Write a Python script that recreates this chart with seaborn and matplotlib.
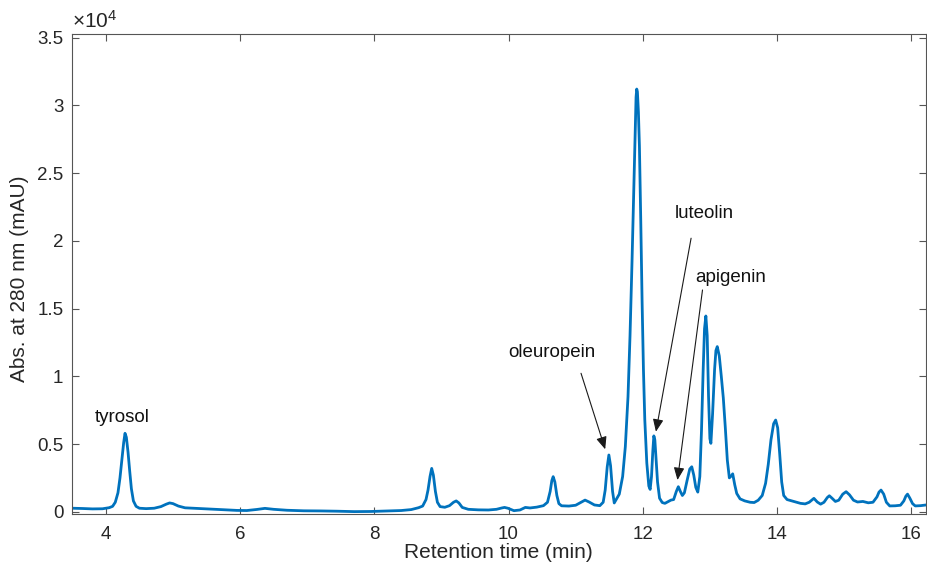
import matplotlib
matplotlib.use("Agg")
import matplotlib.pyplot as plt
import pandas as pd
import seaborn as sns

# ---- data ----
retention_time = [
    3.50, 3.65, 3.80, 3.95, 4.05, 4.10, 4.14, 4.18, 4.21, 4.24, 4.265, 4.285, 4.305, 4.33, 4.355,
    4.38, 4.41, 4.45, 4.50, 4.60, 4.72, 4.82, 4.90, 4.95, 5.00, 5.08, 5.18, 5.35, 5.55, 5.75,
    5.95, 6.10, 6.25, 6.37, 6.50, 6.70, 6.95, 7.20, 7.45, 7.70, 7.95, 8.20, 8.40, 8.55, 8.66,
    8.72, 8.77, 8.80, 8.83, 8.855, 8.88, 8.91, 8.94, 8.98, 9.05, 9.12, 9.18, 9.22, 9.26, 9.31,
    9.40, 9.55, 9.70, 9.82, 9.90, 9.94, 9.99, 10.08, 10.17, 10.25, 10.32, 10.42, 10.52, 10.58, 10.62,
    10.645, 10.665, 10.69, 10.72, 10.75, 10.79, 10.90, 11.00, 11.08, 11.14, 11.20, 11.28, 11.36, 11.41, 11.44,
    11.47, 11.495, 11.52, 11.55, 11.575, 11.65, 11.70, 11.74, 11.78, 11.81, 11.84, 11.87, 11.89, 11.90, 11.91,
    11.92, 11.935, 11.95, 11.97, 11.99, 12.01, 12.03, 12.06, 12.09, 12.11, 12.13, 12.15, 12.165, 12.18, 12.20,
    12.22, 12.25, 12.29, 12.33, 12.38, 12.42, 12.46, 12.50, 12.53, 12.56, 12.59, 12.62, 12.66, 12.70, 12.73,
    12.76, 12.79, 12.82, 12.85, 12.875, 12.90, 12.92, 12.94, 12.96, 12.98, 13.00, 13.015, 13.04, 13.07, 13.09,
    13.11, 13.14, 13.17, 13.20, 13.23, 13.26, 13.29, 13.32, 13.34, 13.37, 13.40, 13.45, 13.52, 13.60, 13.66,
    13.72, 13.78, 13.83, 13.87, 13.91, 13.95, 13.98, 14.01, 14.04, 14.07, 14.10, 14.15, 14.25, 14.35, 14.42,
    14.48, 14.55, 14.60, 14.65, 14.70, 14.75, 14.78, 14.82, 14.87, 14.92, 14.98, 15.03, 15.08, 15.14, 15.20,
    15.28, 15.36, 15.43, 15.49, 15.52, 15.55, 15.59, 15.63, 15.68, 15.76, 15.84, 15.89, 15.92, 15.945, 15.98,
    16.02, 16.06, 16.14, 16.22,
]
absorbance = [
    260, 240, 210, 220, 300, 400, 700, 1400, 2500, 3900, 5100, 5790, 5500, 4400, 3000,
    1700, 800, 400, 260, 230, 260, 380, 560, 650, 600, 420, 290, 250, 200, 150,
    100, 90, 170, 250, 180, 110, 70, 60, 40, 10, 20, 60, 90, 160, 300,
    420, 900, 1600, 2600, 3200, 2700, 1500, 700, 380, 330, 450, 700, 800, 650, 320,
    180, 140, 130, 180, 280, 320, 260, 80, 130, 320, 280, 340, 450, 700, 1500,
    2300, 2590, 2200, 1200, 600, 440, 420, 480, 700, 860, 720, 500, 450, 700, 1600,
    3300, 4190, 3400, 1500, 650, 1300, 2600, 4800, 8500, 13000, 18500, 24500, 28800, 30600, 31200,
    31000, 29500, 27000, 21500, 15500, 10500, 6800, 3600, 1900, 1650, 2600, 4500, 5600, 5300, 3800,
    2200, 1000, 680, 620, 750, 860, 900, 1500, 1850, 1500, 1200, 1400, 2300, 3150, 3320,
    2700, 1800, 1450, 2600, 6000, 10500, 13500, 14450, 13000, 8500, 5400, 5050, 7200, 10500, 11900,
    12190, 11500, 10000, 8400, 6200, 3800, 2500, 2650, 2800, 2000, 1350, 950, 800, 700, 680,
    850, 1200, 2100, 3500, 5300, 6500, 6770, 6200, 4300, 2200, 1200, 900, 760, 620, 580,
    700, 990, 720, 560, 700, 1050, 1180, 1000, 760, 850, 1300, 1480, 1250, 850, 720,
    760, 660, 700, 1100, 1450, 1600, 1300, 700, 430, 440, 480, 800, 1150, 1300, 1000,
    600, 430, 450, 500,
]

x_ticks = [4, 6, 8, 10, 12, 14, 16]
y_ticks = [0, 5000, 10000, 15000, 20000, 25000, 30000, 35000]
y_tick_labels = ["0", "0.5", "1", "1.5", "2", "2.5", "3", "3.5"]

compounds = ["tyrosol", "oleuropein", "luteolin", "apigenin"]

df = pd.DataFrame({"Retention time (min)": retention_time, "Absorbance": absorbance})

sns.set_theme(style="white")
plt.rcParams["font.family"] = ["Liberation Sans", "DejaVu Sans"]
plt.rcParams["mathtext.fontset"] = "custom"
plt.rcParams["mathtext.rm"] = "Liberation Sans"
plt.rcParams["mathtext.it"] = "Liberation Sans"

text_color = "#262626"
spine_color = "#555555"

fig = plt.figure(figsize=(9.27, 5.66), dpi=100)
ax = fig.add_axes([0.0773, 0.0913, 0.9216, 0.8495])

sns.lineplot(data=df, x="Retention time (min)", y="Absorbance", ax=ax,
             color="#0072BD", linewidth=2.0, errorbar=None)

ax.set_xlim(3.49, 16.22)
ax.set_ylim(-190, 35300)
ax.set_xticks(x_ticks)
ax.set_xticklabels([str(v) for v in x_ticks])
ax.set_yticks(y_ticks)
ax.set_yticklabels(y_tick_labels)

for s in ax.spines.values():
    s.set_visible(True)
    s.set_color(spine_color)
    s.set_linewidth(0.8)

ax.tick_params(axis="both", which="both", direction="in", length=5, width=0.8,
               color=spine_color, labelcolor=text_color, labelsize=13.5,
               top=True, right=True, bottom=True, left=True)
ax.tick_params(axis="x", pad=8.5)
ax.tick_params(axis="y", pad=6)

ax.set_xlabel("Retention time (min)", fontsize=15, color=text_color)
ax.set_ylabel("Abs. at 280 nm (mAU)", fontsize=15, color=text_color)
ax.xaxis.set_label_coords(0.5, -0.059)
ax.yaxis.set_label_coords(-0.05, 0.49)

ax.text(0.0, 1.003, r"$\times10^{4}$", transform=ax.transAxes, fontsize=15,
        color=text_color, ha="left", va="bottom")

arrow_kw = dict(arrowstyle="-|>,head_length=0.75,head_width=0.32", color="#1a1a1a",
                lw=0.8, mutation_scale=10, shrinkA=0, shrinkB=0)

# tyrosol: label only
ax.text(4.25, 6990, compounds[0], fontsize=13.5, color="#111111", ha="center", va="center")
# oleuropein
ax.text(10.65, 11720, compounds[1], fontsize=13.5, color="#111111", ha="center", va="center")
ax.annotate("", xy=(11.44, 4610), xytext=(11.08, 10220), arrowprops=arrow_kw)
# luteolin
ax.text(12.915, 21990, compounds[2], fontsize=13.5, color="#111111", ha="center", va="center")
ax.annotate("", xy=(12.196, 5910), xytext=(12.72, 20190), arrowprops=arrow_kw)
# apigenin
ax.text(13.31, 17310, compounds[3], fontsize=13.5, color="#111111", ha="center", va="center")
ax.annotate("", xy=(12.517, 2340), xytext=(12.89, 16370), arrowprops=arrow_kw)

fig.savefig("out.png", dpi=100)
